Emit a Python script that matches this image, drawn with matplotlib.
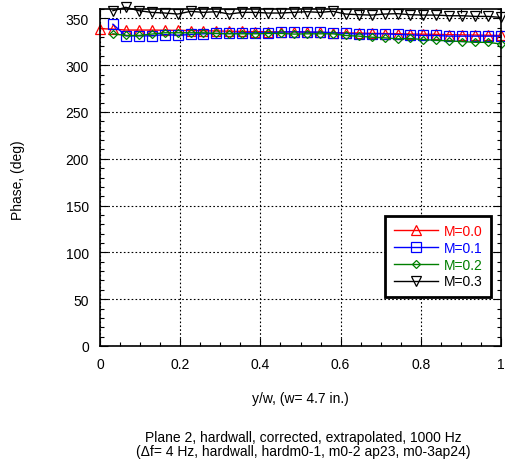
import numpy as np
import matplotlib
matplotlib.use("Agg")
import matplotlib.pyplot as plt
from matplotlib.ticker import MultipleLocator

plt.rcParams['font.family'] = ['Liberation Sans', 'DejaVu Sans']

n = 31
x_red = [i / n for i in range(0, 32)]
x_rest = [i / n for i in range(1, 32)]

m00 = [339.0, 338.5, 337.5, 337.5, 337.5, 337.3, 337.2, 337.0, 336.8, 336.5, 336.3,
       336.0, 335.8, 335.7, 335.6, 335.5, 335.3, 335.0, 334.8, 334.5, 334.3, 334.0,
       333.8, 333.6, 333.3, 333.1, 332.9, 332.6, 332.4, 332.2, 332.0, 331.7]
m01 = [343.7, 331.3, 331.3, 331.3, 332.7, 331.9, 332.8, 333.5, 333.9, 333.9, 334.6,
       334.6, 334.6, 335.3, 335.7, 335.3, 335.3, 334.6, 333.9, 333.2, 333.5, 333.5,
       332.8, 332.4, 331.7, 331.7, 331.0, 331.0, 331.0, 331.0, 331.0]
m02 = [333.5, 331.7, 331.7, 333.2, 334.6, 334.6, 334.6, 334.6, 333.9, 333.5, 333.5,
       333.5, 333.9, 333.9, 333.2, 333.5, 333.5, 333.5, 331.7, 331.0, 329.9, 329.2,
       328.1, 328.5, 327.3, 326.6, 325.9, 325.2, 324.4, 324.4, 322.6]
m03 = [358.2, 361.8, 358.2, 356.4, 355.7, 354.6, 357.5, 356.4, 357.1, 354.6, 356.4,
       356.4, 355.7, 355.7, 356.4, 357.1, 356.4, 357.5, 354.6, 353.9, 353.5, 354.6,
       355.0, 353.9, 353.5, 353.5, 352.8, 352.8, 352.1, 352.1, 351.0]

fig = plt.figure(figsize=(5.05, 4.64), dpi=100)
ax = fig.add_axes([100 / 505, 1 - 347 / 464, 401 / 505, 337 / 464])

kw = dict(markerfacecolor='none', markersize=6.5, linewidth=1.0, markeredgewidth=0.9, clip_on=False)
ax.plot(x_red, m00, color='#ff0000', marker='^', label='M=0.0', **kw)
ax.plot(x_rest, m01, color='#0000ff', marker='s', label='M=0.1', **kw)
ax.plot(x_rest, m02, color='#007f00', marker='D', label='M=0.2',
        markerfacecolor='none', markersize=4.5, linewidth=1.0, markeredgewidth=0.9, clip_on=False)
ax.plot(x_rest, m03, color='#000000', marker='v', label='M=0.3', **kw)

ax.set_xlim(0, 1)
ax.set_ylim(0, 360)
ax.xaxis.set_major_locator(MultipleLocator(0.2))
ax.xaxis.set_minor_locator(MultipleLocator(0.05))
ax.yaxis.set_major_locator(MultipleLocator(50))
ax.yaxis.set_minor_locator(MultipleLocator(10))
ax.set_yticks(np.arange(0, 351, 50))
ax.set_xticks([0, 0.2, 0.4, 0.6, 0.8, 1.0])
ax.set_xticklabels(['0', '0.2', '0.4', '0.6', '0.8', '1'])
ax.tick_params(which='both', direction='in', top=True, right=True, labelsize=10)
ax.tick_params(which='major', length=6, width=0.8, pad=8)
ax.tick_params(which='minor', length=3, width=0.8)
ax.grid(True, which='major', color='black', linestyle=(0, (1.5, 2)), linewidth=0.8)
for s in ax.spines.values():
    s.set_linewidth(1.2)

leg = ax.legend(loc='lower right', bbox_to_anchor=(0.975, 0.146), frameon=True, fancybox=False,
                fontsize=10, handlelength=3.2, borderpad=0.6, labelspacing=0.2,
                handletextpad=0.4, borderaxespad=0)
leg.get_frame().set_edgecolor('black')
leg.get_frame().set_linewidth(2.0)
leg.get_frame().set_alpha(1)
for t, c in zip(leg.get_texts(), ['#ff0000', '#0000ff', '#007f00', '#000000']):
    t.set_color(c)

fig.text(18 / 505, 1 - 180 / 464, 'Phase, (deg)', rotation=90, ha='center', va='center', fontsize=10)
fig.text(300 / 505, 1 - 399 / 464, 'y/w, (w= 4.7 in.)', ha='center', va='center', fontsize=10)
fig.text(303 / 505, 1 - 445 / 464,
         'Plane 2, hardwall, corrected, extrapolated, 1000 Hz\n(\u0394f= 4 Hz, hardwall, hardm0-1, m0-2 ap23, m0-3ap24)',
         ha='center', va='center', fontsize=10, linespacing=1.05)

fig.savefig('out.png', dpi=100)
